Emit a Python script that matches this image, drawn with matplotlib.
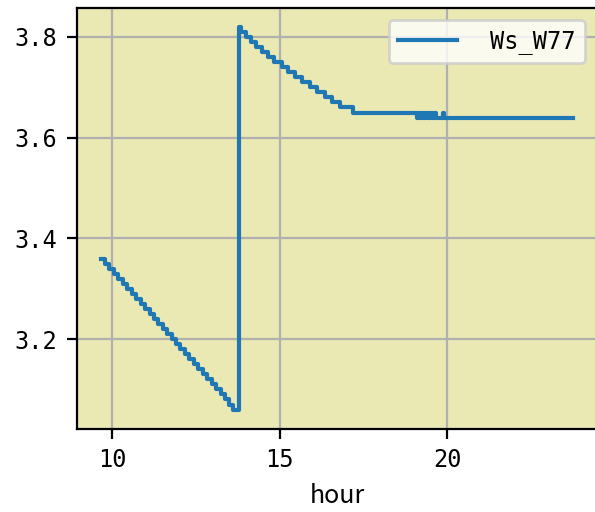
"""Ws_W77 over the day."""
import matplotlib
matplotlib.use("Agg")
import matplotlib.pyplot as plt

# change points (hour, value)
hour_drop = [9.66, 9.79, 9.92, 10.06, 10.19, 10.32, 10.45, 10.59, 10.72, 10.85,
             10.98, 11.12, 11.25, 11.38, 11.51, 11.65, 11.78, 11.91, 12.04, 12.18,
             12.31, 12.44, 12.57, 12.71, 12.84, 12.97, 13.10, 13.24, 13.37, 13.50,
             13.62, 13.72]
ws_drop = [3.36, 3.35, 3.34, 3.33, 3.32, 3.31, 3.30, 3.29, 3.28, 3.27,
           3.26, 3.25, 3.24, 3.23, 3.22, 3.21, 3.20, 3.19, 3.18, 3.17,
           3.16, 3.15, 3.14, 3.13, 3.12, 3.11, 3.10, 3.09, 3.08, 3.07,
           3.06, 3.06]

hour_decay = [13.79, 13.86, 14.00, 14.14, 14.30, 14.48, 14.66, 14.84, 15.06, 15.25,
              15.45, 15.66, 15.90, 16.12, 16.36, 16.58, 16.80, 17.19]
ws_decay = [3.82, 3.81, 3.80, 3.79, 3.78, 3.77, 3.76, 3.75, 3.74, 3.73,
            3.72, 3.71, 3.70, 3.69, 3.68, 3.67, 3.66, 3.65]

hour_flat = [19.11, 19.16, 19.20, 19.26, 19.30, 19.37, 19.42, 19.50, 19.55, 19.62,
             19.66, 19.88, 19.90, 23.77]
ws_flat = [3.64, 3.65, 3.64, 3.65, 3.64, 3.65, 3.64, 3.65, 3.64, 3.65,
           3.64, 3.65, 3.64, 3.64]

plt.rcParams["font.family"] = ["DejaVu Sans Mono"]
plt.rcParams["font.size"] = 8.5

hours = hour_drop + hour_decay + hour_flat
ws = ws_drop + ws_decay + ws_flat

fig = plt.figure(figsize=(2.975, 2.56), dpi=200)
ax = fig.add_axes([0.1294, 0.1627, 0.874, 0.8221])
ax.set_facecolor("#ebe9b3")
ax.plot(hours, ws, color="tab:blue", lw=1.5, drawstyle="steps-post", label="Ws_W77")
ax.set_xticks([10, 15, 20])
ax.set_yticks([3.2, 3.4, 3.6, 3.8])
ax.set_xlabel("hour", family="Noto Sans CJK JP", fontsize=9)
ax.grid(True)
ax.set_axisbelow(True)
ax.legend(loc="upper right", handlelength=2.5, handletextpad=1.4)

fig.savefig("out.png", dpi=200)
